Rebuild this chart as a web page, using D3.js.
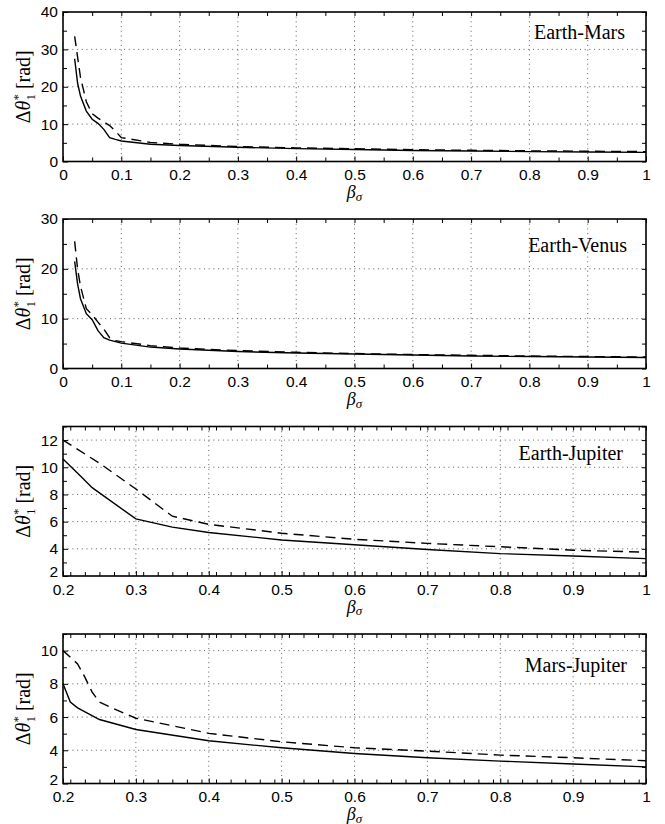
<!DOCTYPE html>
<html>
<head>
<meta charset="utf-8">
<script src="https://cdn.jsdelivr.net/npm/d3@7"></script>
<style>
  body { margin: 0; background: #fff; }
  svg { display: block; }
  .axis text { font-family: "Liberation Sans", Arial, Helvetica, sans-serif; font-size: 15.5px; fill: #000; }
  .axis line { stroke: #000; stroke-width: 1; }
  .axis path { display: none; }
  .serif { font-family: "Liberation Serif", "Times New Roman", Times, serif; fill: #000; }
</style>
</head>
<body>
<svg id="chart" width="665" height="824"></svg>
<script>
// ---- Earth-Mars ----
const emSolidBeta = [0.02, 0.025, 0.03, 0.04, 0.05, 0.06, 0.07, 0.08, 0.09, 0.1, 0.15, 0.2, 0.3, 0.4, 0.5, 0.6, 0.7, 0.8, 0.9, 1.0];
const emSolid     = [27.5, 21.0, 17.5, 13.5, 11.3, 10.2, 8.6, 6.4, 5.9, 5.5, 4.6, 4.3, 3.8, 3.45, 3.2, 2.95, 2.8, 2.65, 2.55, 2.45];
const emDashBeta  = [0.02, 0.03, 0.04, 0.05, 0.06, 0.07, 0.08, 0.09, 0.1, 0.15, 0.2, 0.3, 0.4, 0.5, 0.6, 0.7, 0.8, 0.9, 1.0];
const emDash      = [33.5, 22.5, 16.0, 12.8, 11.6, 10.6, 9.6, 8.1, 6.4, 5.1, 4.6, 4.0, 3.65, 3.4, 3.15, 3.0, 2.85, 2.75, 2.65];

// ---- Earth-Venus ----
const evBeta  = [0.02, 0.025, 0.03, 0.04, 0.05, 0.06, 0.07, 0.08, 0.09, 0.1, 0.15, 0.2, 0.3, 0.4, 0.5, 0.6, 0.7, 0.8, 0.9, 1.0];
const evSolid = [21.5, 17.0, 14.0, 11.0, 9.8, 7.6, 6.2, 5.7, 5.4, 5.1, 4.3, 3.9, 3.4, 3.1, 2.9, 2.7, 2.5, 2.4, 2.3, 2.2];
const evDash  = [25.5, 20.0, 16.5, 12.0, 10.8, 9.3, 7.9, 6.2, 5.6, 5.4, 4.6, 4.1, 3.6, 3.25, 3.0, 2.8, 2.65, 2.5, 2.4, 2.3];

// ---- Earth-Jupiter ----
const ejSolidBeta = [0.2, 0.225, 0.24, 0.3, 0.35, 0.4, 0.5, 0.6, 0.7, 0.8, 0.9, 1.0];
const ejSolid     = [10.6, 9.3, 8.5, 6.2, 5.6, 5.2, 4.65, 4.3, 3.95, 3.65, 3.47, 3.28];
const ejDashBeta  = [0.2, 0.25, 0.3, 0.35, 0.4, 0.5, 0.6, 0.7, 0.8, 0.9, 1.0];
const ejDash      = [12.0, 10.3, 8.4, 6.4, 5.8, 5.15, 4.7, 4.4, 4.15, 3.9, 3.75];

// ---- Mars-Jupiter ----
const mjSolidBeta = [0.2, 0.21, 0.22, 0.25, 0.3, 0.4, 0.5, 0.6, 0.7, 0.8, 0.9, 1.0];
const mjSolid     = [8.0, 6.9, 6.55, 5.85, 5.25, 4.57, 4.15, 3.81, 3.55, 3.35, 3.17, 3.0];
const mjDashBeta  = [0.2, 0.22, 0.23, 0.24, 0.25, 0.27, 0.3, 0.4, 0.5, 0.6, 0.7, 0.8, 0.9, 1.0];
const mjDash      = [10.0, 9.2, 8.4, 7.5, 6.9, 6.5, 5.93, 5.02, 4.51, 4.15, 3.95, 3.71, 3.55, 3.37];

// ---- axis ticks ----
const xTicksFull  = [0, 0.1, 0.2, 0.3, 0.4, 0.5, 0.6, 0.7, 0.8, 0.9, 1];
const xMinorFull  = [0.05, 0.15, 0.25, 0.35, 0.45, 0.55, 0.65, 0.75, 0.85, 0.95];
const xTicksPart  = [0.2, 0.3, 0.4, 0.5, 0.6, 0.7, 0.8, 0.9, 1];
const xMinorPart  = d3.range(21, 100, 2).map(v => v / 100).filter(v => Math.abs(v * 10 - Math.round(v * 10)) > 1e-6);
const yTicksEM = [0, 10, 20, 30, 40];
const yMinorEM = [5, 15, 25, 35];
const yTicksEV = [0, 10, 20, 30];
const yMinorEV = [5, 15, 25];
const yTicksEJ = [2, 4, 6, 8, 10, 12];
const yMinorEJ = [3, 5, 7, 9, 11, 13];
const yTicksMJ = [2, 4, 6, 8, 10];
const yMinorMJ = [3, 5, 7, 9, 11];

const panelNames = ["Earth-Mars", "Earth-Venus", "Earth-Jupiter", "Mars-Jupiter"];

const panels = [
  { name: panelNames[0], xDomain: [0, 1], yDomain: [0, 40], xTicks: xTicksFull, xMinor: xMinorFull, yTicks: yTicksEM, yMinor: yMinorEM,
    solid: [emSolidBeta, emSolid], dash: [emDashBeta, emDash], top: 12, titleDy: 27, titleRight: 625 },
  { name: panelNames[1], xDomain: [0, 1], yDomain: [0, 30], xTicks: xTicksFull, xMinor: xMinorFull, yTicks: yTicksEV, yMinor: yMinorEV,
    solid: [evBeta, evSolid], dash: [evBeta, evDash], top: 219, titleDy: 33, titleRight: 627 },
  { name: panelNames[2], xDomain: [0.2, 1], yDomain: [2, 13], xTicks: xTicksPart, xMinor: xMinorPart, yTicks: yTicksEJ, yMinor: yMinorEJ,
    solid: [ejSolidBeta, ejSolid], dash: [ejDashBeta, ejDash], top: 426.5, titleDy: 33.5, titleRight: 623 },
  { name: panelNames[3], xDomain: [0.2, 1], yDomain: [2, 11], xTicks: xTicksPart, xMinor: xMinorPart, yTicks: yTicksMJ, yMinor: yMinorMJ,
    solid: [mjSolidBeta, mjSolid], dash: [mjDashBeta, mjDash], top: 634, titleDy: 37.5, titleRight: 627 }
];

const svg = d3.select("#chart");
const left = 63, right = 646, ph = 149.5;
const fmt = d => String(+d.toFixed(2));

panels.forEach(p => {
  const g = svg.append("g").attr("transform", `translate(0,${p.top})`);
  const x = d3.scaleLinear().domain(p.xDomain).range([left, right]);
  const y = d3.scaleLinear().domain(p.yDomain).range([ph, 0]);

  // dotted grid at major ticks
  const grid = g.append("g").attr("stroke", "#333").attr("stroke-width", 0.8).attr("stroke-dasharray", "1,3.7");
  p.xTicks.filter(t => t > p.xDomain[0] && t < p.xDomain[1]).forEach(t => {
    grid.append("line").attr("x1", x(t)).attr("x2", x(t)).attr("y1", 0).attr("y2", ph);
  });
  p.yTicks.filter(t => t > p.yDomain[0] && t < p.yDomain[1]).forEach(t => {
    grid.append("line").attr("x1", left).attr("x2", right).attr("y1", y(t)).attr("y2", y(t));
  });

  // curves
  const line = d3.line().x(d => x(d[0])).y(d => y(d[1]));
  g.append("path").datum(d3.zip(p.dash[0], p.dash[1]))
    .attr("d", line).attr("fill", "none").attr("stroke", "#000").attr("stroke-width", 1.4)
    .attr("stroke-dasharray", "10,6");
  g.append("path").datum(d3.zip(p.solid[0], p.solid[1]))
    .attr("d", line).attr("fill", "none").attr("stroke", "#000").attr("stroke-width", 1.4);

  // inward ticks on all four sides
  const tk = 5, tkm = 4;
  g.append("g").attr("class", "axis").attr("transform", `translate(0,${ph})`)
    .call(d3.axisBottom(x).tickValues(p.xTicks).tickSize(-tk).tickSizeOuter(0).tickPadding(7.5).tickFormat(fmt));
  g.append("g").attr("class", "axis").attr("transform", `translate(0,${ph})`)
    .call(d3.axisBottom(x).tickValues(p.xMinor).tickSize(-tkm).tickSizeOuter(0).tickFormat(""));
  g.append("g").attr("class", "axis")
    .call(d3.axisTop(x).tickValues(p.xTicks.concat(p.xMinor)).tickSize(-tkm).tickSizeOuter(0).tickFormat(""));
  const yAxis = g.append("g").attr("class", "axis").attr("transform", `translate(${left},0)`)
    .call(d3.axisLeft(y).tickValues(p.yTicks).tickSize(-tk).tickSizeOuter(0).tickPadding(5).tickFormat(fmt));
  // lowest label sits just above the x labels when both axes start off zero
  if (p.xDomain[0] !== 0) {
    yAxis.selectAll(".tick text").filter(d => d === p.yDomain[0]).attr("dy", "0.05em");
  }
  g.append("g").attr("class", "axis").attr("transform", `translate(${left},0)`)
    .call(d3.axisLeft(y).tickValues(p.yMinor).tickSize(-tkm).tickSizeOuter(0).tickFormat(""));
  g.append("g").attr("class", "axis").attr("transform", `translate(${right},0)`)
    .call(d3.axisRight(y).tickValues(p.yTicks.concat(p.yMinor)).tickSize(-tkm).tickSizeOuter(0).tickFormat(""));

  // frame
  g.append("rect").attr("x", left).attr("y", 0).attr("width", right - left).attr("height", ph)
    .attr("fill", "none").attr("stroke", "#000").attr("stroke-width", 1.6);

  // panel name
  g.append("text").attr("class", "serif").attr("font-size", 20)
    .attr("x", p.titleRight).attr("y", p.titleDy).attr("text-anchor", "end").text(p.name);

  // x-axis label  beta_sigma
  const xl = g.append("text").attr("class", "serif").attr("font-size", 18)
    .attr("x", (left + right) / 2).attr("y", ph + 36.5).attr("text-anchor", "middle");
  xl.append("tspan").attr("font-style", "italic").text("β");
  xl.append("tspan").attr("font-style", "italic").attr("font-size", 13).attr("dy", 2.5).text("σ");

  // y-axis label  Δθ*_1 [rad]
  const yl = g.append("text").attr("class", "serif").attr("font-size", 20)
    .attr("transform", `translate(30,${ph / 2}) rotate(-90)`).attr("text-anchor", "middle");
  yl.append("tspan").text("Δ");
  yl.append("tspan").attr("font-style", "italic").text("θ");
  yl.append("tspan").attr("font-size", 13).attr("dy", -8).text("*");
  yl.append("tspan").attr("font-size", 13).attr("dx", -6.5).attr("dy", 13).text("1");
  yl.append("tspan").attr("dy", -5).text(" [rad]");
});
</script>
</body>
</html>
